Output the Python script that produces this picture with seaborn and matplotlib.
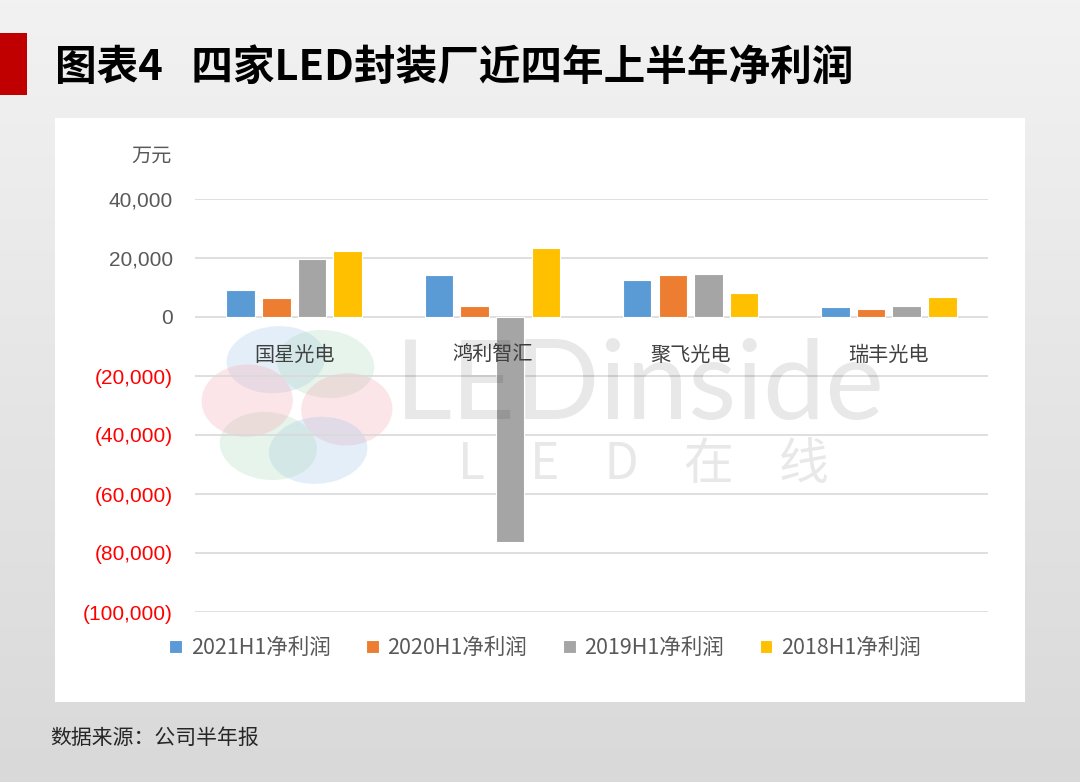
import numpy as np
import pandas as pd
import seaborn as sns
import matplotlib.pyplot as plt
from matplotlib.colors import LinearSegmentedColormap
from matplotlib.patches import Rectangle, Ellipse

# data (万元)
companies = ["国星光电", "鸿利智汇", "聚飞光电", "瑞丰光电"]
series = ["2021H1净利润", "2020H1净利润", "2019H1净利润", "2018H1净利润"]
profit_2021 = [9200, 14100, 12400, 3400]
profit_2020 = [6300, 3800, 14200, 2600]
profit_2019 = [19800, -76300, 14600, 3600]
profit_2018 = [22500, 23400, 8100, 6800]
y_ticks = [40000, 20000, 0, -20000, -40000, -60000, -80000, -100000]

colors = ["#5b9bd5", "#ed7d31", "#a5a5a5", "#ffc000"]

df = pd.DataFrame({
    "company": companies * 4,
    "series": sum([[s] * 4 for s in series], []),
    "value": profit_2021 + profit_2020 + profit_2019 + profit_2018,
})

sns.set_theme(style="white")
CJK = ["Noto Sans CJK SC", "DejaVu Sans"]
plt.rcParams["font.family"] = CJK

W, H = 1080, 782
fig = plt.figure(figsize=(W / 100, H / 100), dpi=100)

# gradient background
bg = fig.add_axes([0, 0, 1, 1], zorder=-10)
grad = np.linspace(0, 1, 256).reshape(-1, 1)
bg.imshow(grad, aspect="auto", extent=[0, 1, 0, 1],
          cmap=LinearSegmentedColormap.from_list("bg", ["#f2f2f2", "#d9d9d9"]))
bg.axis("off")

# white panel and red block
fig.patches.append(Rectangle((55 / W, 1 - 702 / H), 970 / W, 584 / H,
                             transform=fig.transFigure, facecolor="white",
                             edgecolor="none", zorder=-5))
fig.patches.append(Rectangle((0, 1 - 95 / H), 27 / W, 62 / H,
                             transform=fig.transFigure, facecolor="#c00000",
                             edgecolor="none", zorder=-5))

fig.text(55 / W, 1 - 68 / H, "图表4   四家LED封装厂近四年上半年净利润",
         fontsize=30, fontweight="bold", color="black", va="center", ha="left",
         family=CJK)

ax = fig.add_axes([195 / W, 1 - 612 / H, 793 / W, 413 / H])
ax.set_facecolor("none")
sns.barplot(data=df, x="company", y="value", hue="series", hue_order=series,
            order=companies, palette=colors, saturation=1, width=0.72, gap=0.2,
            edgecolor="white", linewidth=0.8, ax=ax, zorder=3)

ax.set_ylim(-100000, 40000)
ax.set_xlim(-0.5, 3.5)
ax.set_yticks(y_ticks)
ax.set_yticklabels([f"{v:,.0f}" if v >= 0 else f"({-v:,.0f})" for v in y_ticks],
                   family="Liberation Sans", fontsize=15)
for lab, v in zip(ax.get_yticklabels(), y_ticks):
    lab.set_color("#595959" if v >= 0 else "#ff0000")
ax.tick_params(axis="y", length=0, pad=16)
ax.tick_params(axis="x", length=0, labelbottom=False)
ax.yaxis.grid(True, color="#d9d9d9", linewidth=1.2, zorder=0)
ax.set_axisbelow(True)
for s in ax.spines.values():
    s.set_visible(False)
ax.set_xlabel("")
ax.set_ylabel("")

for i, name in enumerate(companies):
    ax.text(i, -13000, name, ha="center", va="center", fontsize=14.5,
            color="#404040", family=CJK, zorder=4)

fig.text(172 / W, 1 - 156 / H, "万元", ha="right", va="center",
         fontsize=14.5, color="#595959", family=CJK)

# watermark logo (faint petals) and text
cx, cy = 297, 405
petal_cols = ["#9cc3e6", "#a9d8b8", "#f5a3ad", "#9cc3e6", "#a9d8b8", "#f5a3ad"]
for k, c in enumerate(petal_cols):
    ang = np.deg2rad(115 - 60 * k)
    px = cx + 50 * np.cos(ang)
    py = cy - 50 * np.sin(ang)
    fig.patches.append(Ellipse((px / W, 1 - py / H), 100 / W, 66 / H,
                               angle=np.rad2deg(ang) + 90, transform=fig.transFigure,
                               facecolor=c, edgecolor="none", alpha=0.28, zorder=-4))
fig.text(640 / W, 1 - 388 / H, "LEDinside", ha="center", va="center",
         fontsize=80, color="#000000", alpha=0.09, family="Lato", zorder=20)
fig.text(643 / W, 1 - 465 / H, "L    E    D    在    线", ha="center", va="center",
         fontsize=36, color="#000000", alpha=0.09, family=CJK, zorder=20)

handles, labels = ax.get_legend_handles_labels()
ax.get_legend().remove()
fig.legend(handles, labels, loc="center", bbox_to_anchor=(545 / W, 1 - 648 / H),
           ncol=4, frameon=False, handlelength=0.6, handleheight=0.6,
           handletextpad=0.4, columnspacing=1.65, labelcolor="#595959",
           prop={"family": CJK, "size": 15.5})

fig.text(50 / W, 1 - 738 / H, "数据来源：公司半年报", ha="left", va="center",
         fontsize=15, color="#262626", family=CJK)

fig.savefig("out.png", dpi=100)
